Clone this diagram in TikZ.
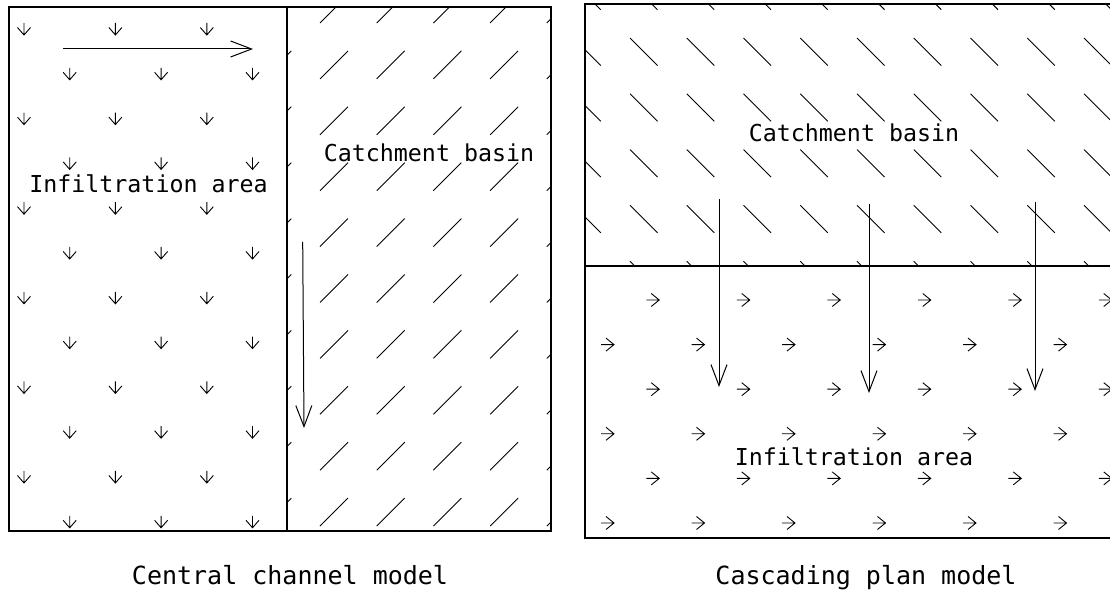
\documentclass[tikz,border=0pt]{standalone}
\usepackage{fontspec}
\newfontfamily\cadfont{DejaVu Sans Mono}
\usetikzlibrary{arrows.meta}

\tikzset{
	border/.style={line width=0.6pt},
	hatch/.style={line width=0.45pt},
	flow/.style={line width=0.5pt, -{Straight Barb[length=10.5pt, width=8pt]}},
	area/.style={font=\cadfont\fontsize{11.65}{14}\selectfont, inner sep=0pt, anchor=base},
	caption/.style={font=\cadfont\fontsize{12.5}{15}\selectfont, inner sep=0pt, anchor=base}
}

\begin{document}
\begin{tikzpicture}[x=0.5pt, y=-0.5pt]
	\useasboundingbox (0,0) rectangle (1110,592);
	\clip (0,0) rectangle (1110,592);
	
	% central channel model
	\begin{scope}
		\clip (287,7) rectangle (551,531);
		\foreach \k in {0,...,9}
		\foreach \j in {0,...,5}
		\draw[hatch] (263.3+56.7*\j, 23+55.9*\k) -- ++(28,-28);
	\end{scope}
	
	\foreach \i in {0,...,11}
	\foreach \j in {0,1,2}
	{
		\pgfmathsetmacro\y{29+44.8*\i}
		\pgfmathsetmacro\x{24+45.7*(2*\j+mod(\i,2))}
		\draw[hatch] (\x,\y-6) -- (\x,\y+6) (\x-6.5,\y-1.5) -- (\x,\y+6) -- (\x+6.5,\y-1.5);
	}
	
	\draw[border] (9,7) rectangle (551,531);
	\draw[border] (287,7) -- (287,531);
	
	\coordinate (sheetA) at (63,49);
	\coordinate (sheetB) at (253,49);
	\draw[flow] (sheetA) -- (sheetB);
	
	\coordinate (chanA) at (302.7,242);
	\coordinate (chanB) at (304,428);
	\draw[flow] (chanA) -- (chanB);
	
	\node[area] (infilL) at (148.5,193) {Infiltration area};
	\node[area] (catchL) at (429,162) {Catchment basin};
	\node[caption] (capL) at (290,585) {Central channel model};
	
	% cascading plan model
	\begin{scope}
		\clip (585,4) rectangle (1140,266);
		\foreach \k in {0,...,5}
		\foreach \j in {0,...,10}
		\draw[hatch] (573.3+56.75*\j, -17.8+55.8*\k) -- ++(27.5,27.5);
	\end{scope}
	
	\foreach \i in {0,...,5}
	\foreach \j in {0,...,5}
	{
		\pgfmathsetmacro\y{300+44.6*\i}
		\pgfmathsetmacro\x{607.5+45.25*(2*\j+1-mod(\i,2))}
		\draw[hatch] (\x-6.5,\y) -- (\x+6.5,\y) (\x-1.5,\y-6.5) -- (\x+6.5,\y) -- (\x-1.5,\y+6.5);
	}
	
	\draw[border] (585,4) rectangle (1140,538);
	\draw[border] (585,266) -- (1140,266);
	
	\coordinate (dropA) at (719,199);
	\coordinate (dropB) at (719,387);
	\draw[flow] (dropA) -- (dropB);
	
	\coordinate (dropC) at (869,204);
	\coordinate (dropD) at (869,393);
	\draw[flow] (dropC) -- (dropD);
	
	\coordinate (dropE) at (1035,202);
	\coordinate (dropF) at (1035,391);
	\draw[flow] (dropE) -- (dropF);
	
	\node[area] (catchR) at (854,142) {Catchment basin};
	\node[area] (infilR) at (854,466) {Infiltration area};
	\node[caption] (capR) at (866,585) {Cascading plan model};
	
\end{tikzpicture}
\end{document}
